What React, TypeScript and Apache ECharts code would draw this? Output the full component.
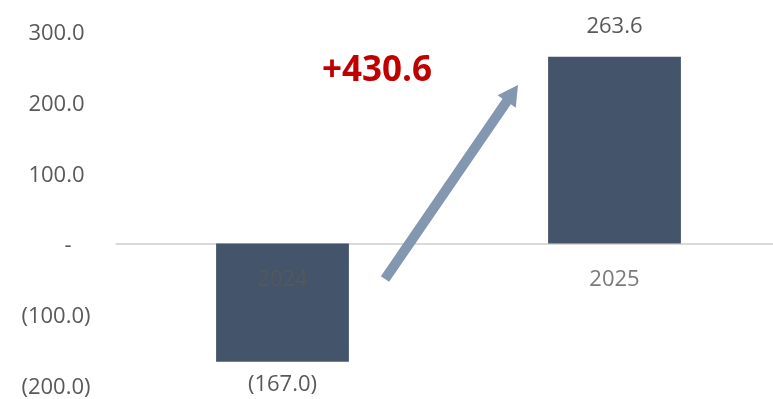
import React, { useEffect, useRef } from "react";
import * as echarts from "echarts";

const categories = ["2024", "2025"];
const values = [-167.0, 263.6];
const yTicks = { min: -200, max: 300, interval: 100 };
const deltaLabel = "+430.6";

const BAR = "#44546A";
const TXT = "#595959";
const FONT = "'Open Sans', sans-serif";
const FS = 22;

function fmt(v: number): string {
  if (v === 0) return "-";
  const s = Math.abs(v).toFixed(1);
  return v < 0 ? `(${s})` : s;
}

function arrowPoints(tail: number[], tip: number[], shaftHalf: number, headHalf: number, headLen: number) {
  const dx = tip[0] - tail[0];
  const dy = tip[1] - tail[1];
  const L = Math.hypot(dx, dy);
  const ux = dx / L, uy = dy / L;
  const nx = -uy, ny = ux;
  const bx = tip[0] - ux * headLen, by = tip[1] - uy * headLen;
  return [
    [tail[0] + nx * shaftHalf, tail[1] + ny * shaftHalf],
    [bx + nx * shaftHalf, by + ny * shaftHalf],
    [bx + nx * headHalf, by + ny * headHalf],
    [tip[0], tip[1]],
    [bx - nx * headHalf, by - ny * headHalf],
    [bx - nx * shaftHalf, by - ny * shaftHalf],
    [tail[0] - nx * shaftHalf, tail[1] - ny * shaftHalf],
  ];
}

export default function App() {
  const ref = useRef<HTMLDivElement>(null);
  useEffect(() => {
    if (!ref.current) return;
    const chart = echarts.init(ref.current, null, { renderer: "svg" });
    chart.setOption({
      animation: false,
      grid: { left: 116.5, right: -7.5, top: 31, bottom: 14, containLabel: false, outerBoundsMode: "none" },
      xAxis: {
        type: "category",
        data: categories,
        axisLine: { onZero: true, lineStyle: { color: "#D9D9D9", width: 2 } },
        axisTick: { show: false },
        axisLabel: { show: false },
      },
      yAxis: {
        type: "value",
        min: yTicks.min,
        max: yTicks.max,
        interval: yTicks.interval,
        splitLine: { show: false },
        axisLine: { show: false },
        axisTick: { show: false },
        axisLabel: {
          margin: 26,
          formatter: (v: number) => {
            if (v === 0) return "{d|-}";
            if (v < 0) return `{n|${fmt(v)}}`;
            return `{p|${fmt(v)}}`;
          },
          rich: {
            p: { color: TXT, fontFamily: FONT, fontSize: FS, padding: [0, 6, 0, 0] },
            n: { color: TXT, fontFamily: FONT, fontSize: FS },
            d: { color: TXT, fontFamily: FONT, fontSize: FS, padding: [0, 19, 0, 0] },
          },
        },
      },
      series: [
        {
          type: "bar",
          data: values.map((v) => ({
            value: v,
            label: {
              show: true,
              position: v < 0 ? "bottom" : "top",
              distance: v < 0 ? 9 : 22,
            },
          })),
          barWidth: "40%",
          itemStyle: { color: BAR },
          label: {
            color: TXT,
            fontFamily: FONT,
            fontSize: FS,
            formatter: (p: any) => fmt(p.value),
          },
          z: 2,
        },
        {
          type: "scatter",
          data: categories.map((c) => [c, 0]),
          symbolSize: 0,
          z: 5,
          silent: true,
          label: {
            show: true,
            position: "bottom",
            distance: 23,
            color: TXT,
            fontFamily: FONT,
            fontSize: FS,
            formatter: (p: any) => p.value[0],
          },
        },
      ],
      graphic: [
        {
          type: "polygon",
          shape: { points: arrowPoints([385, 279], [518, 85], 5, 11, 20) },
          style: { fill: "#8497B0" },
          z: 10,
        },
        {
          type: "text",
          x: 377,
          y: 67,
          style: {
            text: deltaLabel,
            fill: "#C00000",
            font: `bold 35px ${FONT}`,
            textAlign: "center",
            textVerticalAlign: "middle",
          },
          z: 10,
        },
      ],
    });
    return () => chart.dispose();
  }, []);
  return <div ref={ref} style={{ width: 773, height: 399, position: "fixed", left: 0, top: 0 }} />;
}
